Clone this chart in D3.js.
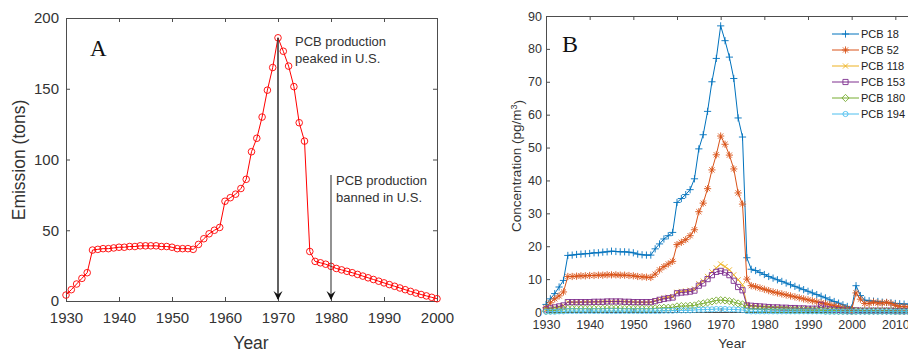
<!DOCTYPE html>
<html>
<head>
<meta charset="utf-8">
<script src="https://cdn.jsdelivr.net/npm/d3@7"></script>
<style>
  html, body { margin: 0; padding: 0; background: #fff; }
  svg { display: block; font-family: Arial, "Liberation Sans", Helvetica, sans-serif; }
</style>
</head>
<body>
<svg id="chart" width="908" height="352"></svg>
<script>
// ---------- Panel A: annual PCB emission (tons) ----------
const emissionStart = 1930;
const emission = [
  4.2, 8.0, 12.0, 16.0, 20.0, 36.0, 36.5, 37.0, 37.0, 37.5,
  38.0, 38.0, 38.5, 38.5, 39.0, 39.0, 39.0, 39.0, 38.5, 38.5,
  38.0, 37.0, 37.0, 37.0, 36.5, 40.0, 44.0, 47.5, 50.0, 52.0,
  70.5, 73.0, 75.5, 79.5, 86.0, 105.5, 115.0, 130.0, 149.0, 165.0,
  186.0, 176.5, 166.0, 151.5, 126.0, 113.0, 35.0, 28.0, 27.0, 26.0,
  24.5, 23.0, 22.0, 21.0, 20.0, 18.8, 17.6, 16.4, 15.2, 14.0,
  12.8, 11.6, 10.4, 9.2, 8.0, 6.8, 5.6, 4.6, 3.6, 2.6,
  1.6
];
const yearTicksA = [1930, 1940, 1950, 1960, 1970, 1980, 1990, 2000];
const emissionTicks = [0, 50, 100, 150, 200];
const notes = [
  { year: 1970, from: 186, lines: ["PCB production", "peaked in U.S."] },
  { year: 1980, from: 89, lines: ["PCB production", "banned in U.S."] }
];

// ---------- Panel B: modelled air concentration (pg/m3) ----------
const concStart = 1930;
const pcb18 = [
  2.3, 4.0, 5.6, 7.6, 9.6, 17.2, 17.3, 17.5, 17.6, 17.7,
  17.8, 18.0, 18.0, 18.2, 18.3, 18.5, 18.4, 18.3, 18.3, 18.2,
  18.0, 17.6, 17.4, 17.3, 17.3, 19.2, 20.7, 22.2, 23.2, 24.2,
  33.3, 34.5, 35.7, 37.2, 40.5, 49.6, 53.9, 61.0, 70.0, 77.1,
  87.0, 82.5, 77.5, 71.0, 59.0, 53.2, 16.5, 13.0, 12.6, 12.0,
  11.4, 10.8, 10.3, 9.8, 9.3, 8.8, 8.3, 7.8, 7.3, 6.8,
  6.3, 5.8, 5.3, 4.8, 4.3, 3.7, 3.2, 2.7, 2.2, 1.7,
  1.2, 8.0, 5.0, 3.6, 3.4, 3.3, 3.2, 3.0, 2.9, 2.8,
  2.6, 2.5, 2.4, 2.4, 2.3, 2.3
];
const pcb52 = [
  1.3, 2.8, 4.0, 4.9, 6.1, 10.8, 10.8, 10.9, 11.0, 11.0,
  11.1, 11.1, 11.2, 11.2, 11.3, 11.3, 11.3, 11.2, 11.2, 11.1,
  11.0, 10.8, 10.7, 10.6, 10.5, 11.5, 12.8, 13.8, 14.6, 15.4,
  20.5, 21.2, 22.0, 23.2, 25.0, 30.5, 33.1, 37.5, 43.2, 47.8,
  53.5, 51.0, 47.7, 43.5, 36.2, 32.8, 10.0, 8.0, 7.7, 7.3,
  6.9, 6.5, 6.1, 5.8, 5.5, 5.2, 4.9, 4.6, 4.3, 4.0,
  3.7, 3.4, 3.1, 2.8, 2.5, 2.2, 1.9, 1.6, 1.3, 1.0,
  0.7, 5.8, 3.9, 2.6, 2.6, 3.0, 2.7, 2.7, 2.9, 2.6,
  2.0, 1.7, 1.6, 1.6, 1.5, 1.5
];
const pcb118 = [
  0.7, 1.0, 1.3, 1.6, 2.0, 3.0, 3.0, 3.0, 3.0, 3.1,
  3.1, 3.1, 3.1, 3.2, 3.2, 3.2, 3.2, 3.2, 3.2, 3.1,
  3.1, 3.0, 3.0, 3.0, 3.0, 3.4, 3.8, 4.2, 4.5, 4.7,
  6.0, 6.2, 6.4, 6.6, 7.0, 8.6, 9.4, 10.8, 12.2, 13.4,
  14.6, 13.8, 12.8, 11.3, 9.8, 8.3, 2.3, 1.9, 1.8, 1.7,
  1.6, 1.5, 1.4, 1.4, 1.3, 1.2, 1.1, 1.1, 1.0, 0.9,
  0.9, 0.8, 0.7, 0.7, 0.6, 0.5, 0.5, 0.4, 0.3, 0.3,
  0.2, 0.6, 0.5, 0.4, 0.4, 0.4, 0.4, 0.4, 0.4, 0.4,
  0.3, 0.3, 0.3, 0.3, 0.3, 0.3
];
const pcb153 = [
  0.8, 1.1, 1.4, 1.7, 2.0, 3.0, 3.0, 3.0, 3.0, 3.0,
  3.0, 3.1, 3.1, 3.1, 3.2, 3.2, 3.2, 3.2, 3.1, 3.1,
  3.0, 3.0, 3.0, 3.0, 3.0, 3.3, 3.7, 4.0, 4.2, 4.4,
  5.7, 5.9, 6.0, 6.2, 6.5, 8.0, 8.7, 10.0, 11.2, 12.2,
  12.5, 12.0, 11.2, 9.5, 7.6, 6.6, 2.0, 1.9, 1.8, 1.7,
  1.6, 1.5, 1.4, 1.4, 1.3, 1.3, 1.2, 1.2, 1.1, 1.1,
  1.0, 1.0, 1.0, 2.2, 1.0, 0.8, 0.7, 0.6, 0.5, 0.4,
  0.3, 0.5, 0.4, 0.4, 0.4, 0.4, 0.4, 0.4, 0.4, 0.4,
  0.3, 0.3, 0.3, 0.3, 0.3, 0.3
];
const pcb180 = [
  0.3, 0.4, 0.5, 0.6, 0.7, 1.0, 1.0, 1.0, 1.0, 1.0,
  1.0, 1.0, 1.0, 1.0, 1.1, 1.1, 1.1, 1.1, 1.0, 1.0,
  1.0, 1.0, 1.0, 1.0, 1.0, 1.1, 1.2, 1.3, 1.3, 1.4,
  1.7, 1.8, 1.8, 1.9, 2.0, 2.4, 2.6, 2.9, 3.2, 3.5,
  3.6, 3.5, 3.3, 3.0, 2.6, 2.3, 1.0, 0.9, 0.9, 0.8,
  0.8, 0.8, 0.7, 0.7, 0.7, 0.7, 0.6, 0.6, 0.6, 0.6,
  0.5, 0.5, 0.5, 0.5, 0.4, 0.4, 0.4, 0.3, 0.3, 0.3,
  0.2, 0.3, 0.3, 0.3, 0.3, 0.3, 0.3, 0.3, 0.3, 0.3,
  0.2, 0.2, 0.2, 0.2, 0.2, 0.2
];
const pcb194 = [
  0.1, 0.1, 0.1, 0.2, 0.2, 0.3, 0.3, 0.3, 0.3, 0.3,
  0.3, 0.3, 0.3, 0.3, 0.3, 0.3, 0.3, 0.3, 0.3, 0.3,
  0.3, 0.3, 0.3, 0.3, 0.3, 0.3, 0.3, 0.4, 0.4, 0.4,
  0.5, 0.5, 0.5, 0.5, 0.6, 0.7, 0.7, 0.8, 0.8, 0.9,
  0.9, 0.9, 0.8, 0.8, 0.7, 0.6, 0.3, 0.2, 0.2, 0.2,
  0.2, 0.2, 0.2, 0.2, 0.2, 0.2, 0.2, 0.2, 0.2, 0.2,
  0.2, 0.2, 0.2, 0.2, 0.1, 0.1, 0.1, 0.1, 0.1, 0.1,
  0.1, 0.1, 0.1, 0.1, 0.1, 0.1, 0.1, 0.1, 0.1, 0.1,
  0.1, 0.1, 0.1, 0.1, 0.1, 0.1
];
const seriesNames = ["PCB 18", "PCB 52", "PCB 118", "PCB 153", "PCB 180", "PCB 194"];
const seriesValues = [pcb18, pcb52, pcb118, pcb153, pcb180, pcb194];
const seriesColors = ["#0072BD", "#D95319", "#EDB120", "#7E2F8E", "#77AC30", "#4DBEEE"];
const seriesMarkers = ["plus", "star", "cross", "square", "diamond", "circle"];
const yearTicksB = [1930, 1940, 1950, 1960, 1970, 1980, 1990, 2000, 2010, 2020];
const concTicks = [0, 10, 20, 30, 40, 50, 60, 70, 80, 90];

const svg = d3.select("#chart");
const axisColor = "#4d4d4d";
const textColor = "#333333";

function styleAxis(g, fontSize) {
  g.selectAll(".domain").attr("stroke", axisColor).attr("stroke-width", 1);
  g.selectAll(".tick line").attr("stroke", axisColor);
  g.selectAll(".tick text").attr("fill", textColor)
    .style("font-size", fontSize + "px")
    .style("font-family", "Arial, 'Liberation Sans', sans-serif");
}

// Marker outlines as path strings centred on the origin
function markerPath(type, s) {
  const d = s * 0.72;
  switch (type) {
    case "plus":    return `M${-s},0H${s}M0,${-s}V${s}`;
    case "star":    return `M${-s},0H${s}M0,${-s}V${s}M${-d},${-d}L${d},${d}M${-d},${d}L${d},${-d}`;
    case "cross":   return `M${-d},${-d}L${d},${d}M${-d},${d}L${d},${-d}`;
    case "square":  return `M${-d},${-d}H${d}V${d}H${-d}Z`;
    case "diamond": return `M0,${-s}L${s},0L0,${s}L${-s},0Z`;
    default:        return `M${d},0A${d},${d} 0 1 1 ${-d},0A${d},${d} 0 1 1 ${d},0Z`;
  }
}

// ================= Panel A =================
(function () {
  const years = emission.map((_, i) => emissionStart + i);
  const x = d3.scaleLinear().domain([1930, 2000]).range([66, 437]);
  const y = d3.scaleLinear().domain([0, 200]).range([301, 18]);
  const g = svg.append("g");

  g.append("g").attr("transform", "translate(0,301)")
    .call(d3.axisBottom(x).tickValues(yearTicksA).tickFormat(d3.format("d"))
      .tickSizeInner(-4).tickSizeOuter(0).tickPadding(11))
    .call(a => styleAxis(a, 15));
  g.append("g").attr("transform", "translate(0,18)")
    .call(d3.axisTop(x).tickValues(yearTicksA).tickFormat("")
      .tickSizeInner(-4).tickSizeOuter(0))
    .call(a => styleAxis(a, 15));
  g.append("g").attr("transform", "translate(66,0)")
    .call(d3.axisLeft(y).tickValues(emissionTicks)
      .tickSizeInner(-4).tickSizeOuter(0).tickPadding(7))
    .call(a => styleAxis(a, 15));
  g.append("g").attr("transform", "translate(437,0)")
    .call(d3.axisRight(y).tickValues(emissionTicks).tickFormat("")
      .tickSizeInner(-4).tickSizeOuter(0))
    .call(a => styleAxis(a, 15));

  const line = d3.line().x((d, i) => x(years[i])).y(d => y(d));
  g.append("path").datum(emission).attr("d", line)
    .attr("fill", "none").attr("stroke", "#ff0000").attr("stroke-width", 1);
  g.selectAll("circle.pt").data(emission).join("circle")
    .attr("class", "pt")
    .attr("cx", (d, i) => x(years[i])).attr("cy", d => y(d)).attr("r", 3.3)
    .attr("fill", "none").attr("stroke", "#ff0000").attr("stroke-width", 0.9);

  // annotation arrows
  notes.forEach((n, k) => {
    const xx = x(n.year);
    g.append("line").attr("x1", xx).attr("x2", xx)
      .attr("y1", y(n.from)).attr("y2", y(0) - 2)
      .attr("stroke", "#3a3a3a").attr("stroke-width", k === 0 ? 1.6 : 1.1);
    const yb = y(0) - 1;
    g.append("path")
      .attr("d", `M${xx},${yb}L${xx - 4.5},${yb - 9}L${xx},${yb - 5.5}L${xx + 4.5},${yb - 9}Z`)
      .attr("fill", "#111");
    const t = g.append("text").attr("fill", textColor).style("font-size", "13px");
    const tx = k === 0 ? 295 : 336;
    const ty = k === 0 ? 46 : 185;
    n.lines.forEach((s, j) => {
      t.append("tspan").attr("x", tx).attr("y", ty + j * 17).text(s);
    });
  });

  g.append("text").attr("x", 90).attr("y", 56)
    .style("font-family", "'Liberation Serif', 'Times New Roman', serif")
    .style("font-size", "23px").attr("fill", "#111").text("A");

  g.append("text").attr("x", 251).attr("y", 349).attr("text-anchor", "middle")
    .style("font-size", "17.5px").attr("fill", textColor).text("Year");
  g.append("text").attr("transform", "translate(25,160) rotate(-90)")
    .attr("text-anchor", "middle")
    .style("font-size", "17.5px").attr("fill", textColor).text("Emission (tons)");
})();

// ================= Panel B =================
(function () {
  const years = pcb18.map((_, i) => concStart + i);
  const x = d3.scaleLinear().domain([1930, 2020]).range([546, 939]);
  const y = d3.scaleLinear().domain([0, 90]).range([312, 16]);
  const g = svg.append("g");

  g.append("g").attr("transform", "translate(0,312)")
    .call(d3.axisBottom(x).tickValues(yearTicksB).tickFormat(d3.format("d"))
      .tickSizeInner(-4).tickSizeOuter(0).tickPadding(8))
    .call(a => styleAxis(a, 12.5));
  g.append("g").attr("transform", "translate(0,16)")
    .call(d3.axisTop(x).tickValues(yearTicksB).tickFormat("")
      .tickSizeInner(-4).tickSizeOuter(0))
    .call(a => styleAxis(a, 12.5));
  g.append("g").attr("transform", "translate(546,0)")
    .call(d3.axisLeft(y).tickValues(concTicks)
      .tickSizeInner(-4).tickSizeOuter(0).tickPadding(4))
    .call(a => styleAxis(a, 12.5));

  const line = d3.line().x((d, i) => x(years[i])).y(d => y(d));
  seriesValues.forEach((vals, k) => {
    const sg = g.append("g");
    sg.append("path").datum(vals).attr("d", line)
      .attr("fill", "none").attr("stroke", seriesColors[k]).attr("stroke-width", 1);
    sg.selectAll("path.mk").data(vals).join("path")
      .attr("class", "mk")
      .attr("transform", (d, i) => `translate(${x(years[i])},${y(d)})`)
      .attr("d", markerPath(seriesMarkers[k], 3.6))
      .attr("fill", "none").attr("stroke", seriesColors[k]).attr("stroke-width", 0.9);
  });

  // legend
  const lg = g.append("g");
  seriesNames.forEach((name, k) => {
    const ly = 34 + k * 16;
    lg.append("line").attr("x1", 832).attr("x2", 859).attr("y1", ly).attr("y2", ly)
      .attr("stroke", seriesColors[k]).attr("stroke-width", 1);
    lg.append("path").attr("transform", `translate(845.5,${ly})`)
      .attr("d", markerPath(seriesMarkers[k], 3.6))
      .attr("fill", "none").attr("stroke", seriesColors[k]).attr("stroke-width", 0.9);
    lg.append("text").attr("x", 861).attr("y", ly).attr("dy", "0.35em")
      .style("font-size", "11px").attr("fill", "#222").text(name);
  });

  g.append("text").attr("x", 562).attr("y", 52)
    .style("font-family", "'Liberation Serif', 'Times New Roman', serif")
    .style("font-size", "24px").attr("fill", "#111").text("B");

  g.append("text").attr("x", 732).attr("y", 348).attr("text-anchor", "middle")
    .style("font-size", "13.5px").attr("fill", textColor).text("Year");
  const yl = g.append("text").attr("transform", "translate(521,166) rotate(-90)")
    .attr("text-anchor", "middle")
    .style("font-size", "13.5px").attr("fill", textColor);
  yl.append("tspan").text("Concentration (pg/m");
  yl.append("tspan").attr("dy", "-0.45em").style("font-size", "9px").text("3");
  yl.append("tspan").attr("dy", "0.45em").text(")");
})();
</script>
</body>
</html>
